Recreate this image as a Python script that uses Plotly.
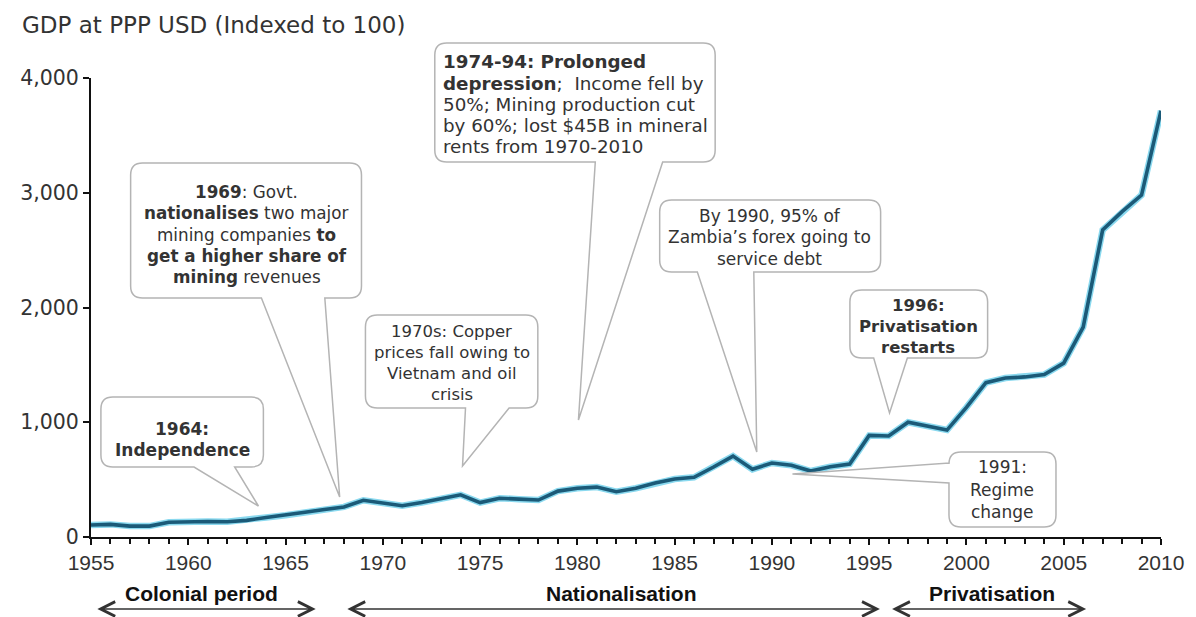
import plotly.graph_objects as go

years = list(range(1955, 2011))
gdp_index = [105, 110, 95, 95, 128, 135, 135, 133, 145, 170,
             190, 215, 240, 262, 320, 298, 272, 300, 330, 368,
             300, 338, 330, 322, 400, 425, 435, 395, 425, 470,
             505, 520, 610, 705, 590, 645, 625, 575, 612, 636,
             885, 880, 1000, 965, 932, 1130, 1345, 1385, 1395, 1415,
             1515, 1830, 2675, 2835, 2980, 3715]
y_ticks = [0, 1000, 2000, 3000, 4000]
x_ticks = list(range(1955, 2011, 5))

periods = ["Colonial period", "Nationalisation", "Privatisation"]
period_start = [1955.25, 1968.1, 1996.1]
period_end = [1966.55, 1995.55, 2006.15]
period_label_x = [1960.7, 1982.25, 2001.3]

# page has an 8px body margin; figure sized so the page is 1196x617
BODY = 8
W, H = 1196 - BODY, 617 - BODY
PL, PR, PT, PB = 83, 1163, 78, 537  # plot area in page pixels


def px(x):
    return (x - PL) / (PR - PL)


def py(y):
    return (PB - y) / (PB - PT)


def bubble(x0, y0, x1, y1, side, a, b, tip, r=12):
    def P(x, y):
        return f"{px(x):.5f},{py(y):.5f}"

    s = f"M{P(x0 + r, y0)} L{P(x1 - r, y0)} Q{P(x1, y0)} {P(x1, y0 + r)} "
    s += f"L{P(x1, y1 - r)} Q{P(x1, y1)} {P(x1 - r, y1)} "
    if side == "bottom":
        s += f"L{P(b, y1)} L{P(tip[0], tip[1])} L{P(a, y1)} "
    s += f"L{P(x0 + r, y1)} Q{P(x0, y1)} {P(x0, y1 - r)} "
    if side == "left":
        s += f"L{P(x0, b)} L{P(tip[0], tip[1])} L{P(x0, a)} "
    s += f"L{P(x0, y0 + r)} Q{P(x0, y0)} {P(x0 + r, y0)} Z"
    return dict(type="path", xref="paper", yref="paper", path=s,
                line=dict(color="#b4b4b4", width=1.5), fillcolor="white", layer="above")


fig = go.Figure()
fig.add_trace(go.Scatter(x=years, y=gdp_index, mode="lines",
                         line=dict(color="#8ad9ef", width=6.5), hoverinfo="skip", showlegend=False))
fig.add_trace(go.Scatter(x=years, y=gdp_index, mode="lines",
                         line=dict(color="#1b5a78", width=3.6), showlegend=False))

shapes = [
    bubble(93, 397, 257, 467, "bottom", 187, 228, (252, 506)),
    bubble(123, 163, 356, 298, "bottom", 255, 319, (334, 497)),
    bubble(360, 315, 534, 408, "bottom", 461, 505, (458, 466)),
    bubble(430, 43, 713, 162, "bottom", 592, 660, (575, 420)),
    bubble(657, 200, 880, 272, "bottom", 695, 752, (755, 452)),
    bubble(849, 290, 988, 358, "bottom", 873, 907, (889, 413)),
    bubble(949, 452, 1057, 527, "left", 463, 483, (791, 474)),
]

TXT = "#333333"
FONT = "DejaVu Sans, Verdana, sans-serif"
ann = []


def lines(x, y0, dy, rows, size=17, xanchor="center"):
    for i, row in enumerate(rows):
        ann.append(dict(xref="paper", yref="paper", x=px(x), y=py(y0 + i * dy), text=row,
                        showarrow=False, xanchor=xanchor, yanchor="middle",
                        font=dict(family=FONT, size=size, color=TXT)))


lines(175, 429, 21, ["<b>1964:</b>", "<b>Independence</b>"], size=17)
lines(240, 192, 21.3, ["<b>1969</b>: Govt.", "<b>nationalises</b> two major",
                       "mining companies <b>to</b>", "<b>get a higher share of</b>",
                       "<b>mining</b> revenues"], size=16.8)
lines(447, 331, 21.3, ["1970s: Copper", "prices fall owing to", "Vietnam and oil", "crisis"], size=16.5)
lines(436, 62, 21, ["<b>1974-94: Prolonged</b>", "<b>depression</b>;  Income fell by",
                    "50%; Mining production cut", "by 60%; lost $45B in mineral",
                    "rents from 1970-2010"], size=18.3, xanchor="left")
lines(768, 216, 21.5, ["By 1990, 95% of", "Zambia\u2019s forex going to", "service debt"], size=17)
lines(918, 305, 21, ["<b>1996:</b>", "<b>Privatisation</b>", "<b>restarts</b>"], size=16.5)
lines(1003, 467, 22.5, ["1991:", "Regime", "change"], size=17)

ann.append(dict(xref="paper", yref="paper", x=px(11), y=py(25),
                text="GDP at PPP USD (Indexed to 100)", showarrow=False,
                xanchor="left", yanchor="middle",
                font=dict(family=FONT, size=23, color="#333333")))

BOLDF = "Liberation Sans Narrow, Arial Narrow, Liberation Sans, Arial, sans-serif"
for name, s, e, lx in zip(periods, period_start, period_end, period_label_x):
    ann.append(dict(xref="x", yref="paper", x=lx, y=py(593), text=f"<b>{name}</b>",
                    showarrow=False, xanchor="center", yanchor="middle",
                    font=dict(family=BOLDF, size=21, color="#111111")))
    ann.append(dict(xref="x", yref="paper", x=e, y=py(609), axref="x", ayref="pixel",
                    ax=s, ay=0, text="", showarrow=True, arrowhead=5, startarrowhead=5,
                    arrowside="end+start", arrowsize=1.8, startarrowsize=1.8,
                    arrowwidth=1.6, arrowcolor="#333333"))

fig.update_layout(
    width=W, height=H, autosize=False,
    margin=dict(l=PL - BODY, r=(W + BODY) - PR, t=PT - BODY, b=(H + BODY) - PB),
    plot_bgcolor="white", paper_bgcolor="white",
    shapes=shapes, annotations=ann,
    xaxis=dict(range=[1955, 2010], tickvals=x_ticks, ticktext=[str(v) for v in x_ticks],
               showgrid=False, zeroline=False, showline=True, linecolor="#111111", linewidth=2,
               ticks="outside", ticklen=6, tickwidth=1.5, tickcolor="#111111",
               minor=dict(dtick=1, ticks="outside", ticklen=5, tickwidth=1.5, tickcolor="#111111"),
               tickfont=dict(family=BOLDF, size=21, color="#333333")),
    yaxis=dict(range=[0, 4000], tickvals=y_ticks, tickformat=",",
               showgrid=False, zeroline=False, showline=True, linecolor="#111111", linewidth=2,
               ticks="outside", ticklen=6, tickwidth=1.5, tickcolor="#111111",
               tickfont=dict(family=FONT, size=20.5, color="#333333")),
)

fig.write_html("out.html")
